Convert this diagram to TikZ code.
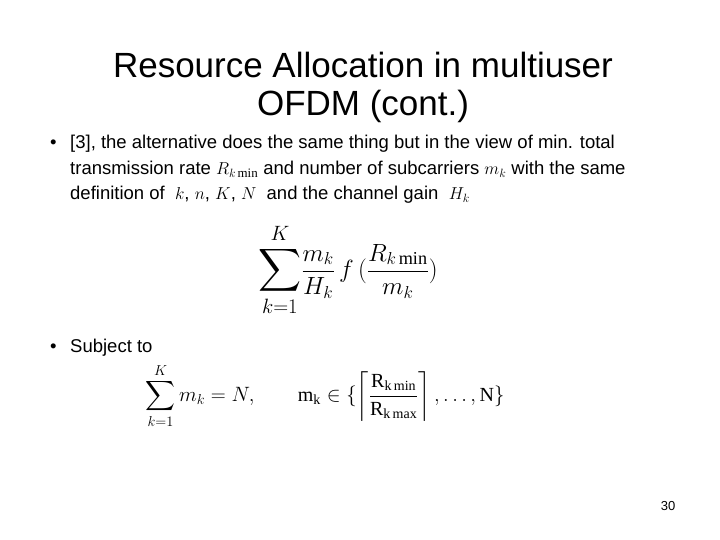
\documentclass[tikz,border=0pt]{standalone}
\usepackage{amsmath}
\usepackage{graphicx}
\usepackage{fontspec}
\setmainfont{Liberation Sans}
\setmathrm{Liberation Serif}
\tikzset{
  txt/.style={anchor=base west, inner sep=0pt, font=\fontsize{18.5}{22}\selectfont},
  ttl/.style={anchor=base, inner sep=0pt, font=\fontsize{35}{40}\selectfont},
  eq/.style={inner sep=0pt, font=\fontsize{26}{30}\selectfont},
  eqs/.style={inner sep=0pt, font=\fontsize{20}{24}\selectfont}
}
\begin{document}
\begin{tikzpicture}[x=1pt,y=-1pt]
\useasboundingbox (0,0) rectangle (720,540);
\node[ttl] (t1) at (363,78) {Resource Allocation in multiuser};
\node[ttl] (t2) at (363,116) {OFDM (cont.)};
\node[txt] (b1) at (50,149) {\textbullet};
\node[txt] (l1) at (70,149) {[3], the alternative does the same thing but in the view of min. total};
\node[txt] (l2) at (70,175) {transmission rate $R_{k\min}$ and number of subcarriers $m_k$ with the same};
\node[txt] (l3) at (70,200) {definition of \ $k$, $n$, $K$, $N$ \ and the channel gain \ $H_k$};
\node[eq] (e1) at (348,270) {$\displaystyle \scalebox{1.2}{$\displaystyle\sum_{k=1}^{K}$}\frac{m_k}{H_k}\,f\,(\frac{R_{k\min}}{m_k})$};
\node[txt] (b2) at (50,352) {\textbullet};
\node[txt] (s) at (70,352) {Subject to};
\node[eqs] (e2) at (325,396) {$\displaystyle \sum_{k=1}^{K} m_k = N,\qquad \mathrm{m_k}\in\{\left\lceil\frac{\mathrm{R}_{\mathrm{k\,min}}}{\mathrm{R}_{\mathrm{k\,max}}}\right\rceil,\ldots,\mathrm{N}\}$};
\node[anchor=base, inner sep=0pt, font=\fontsize{13}{15}\selectfont] (pg) at (668,510) {30};
\end{tikzpicture}
\end{document}
